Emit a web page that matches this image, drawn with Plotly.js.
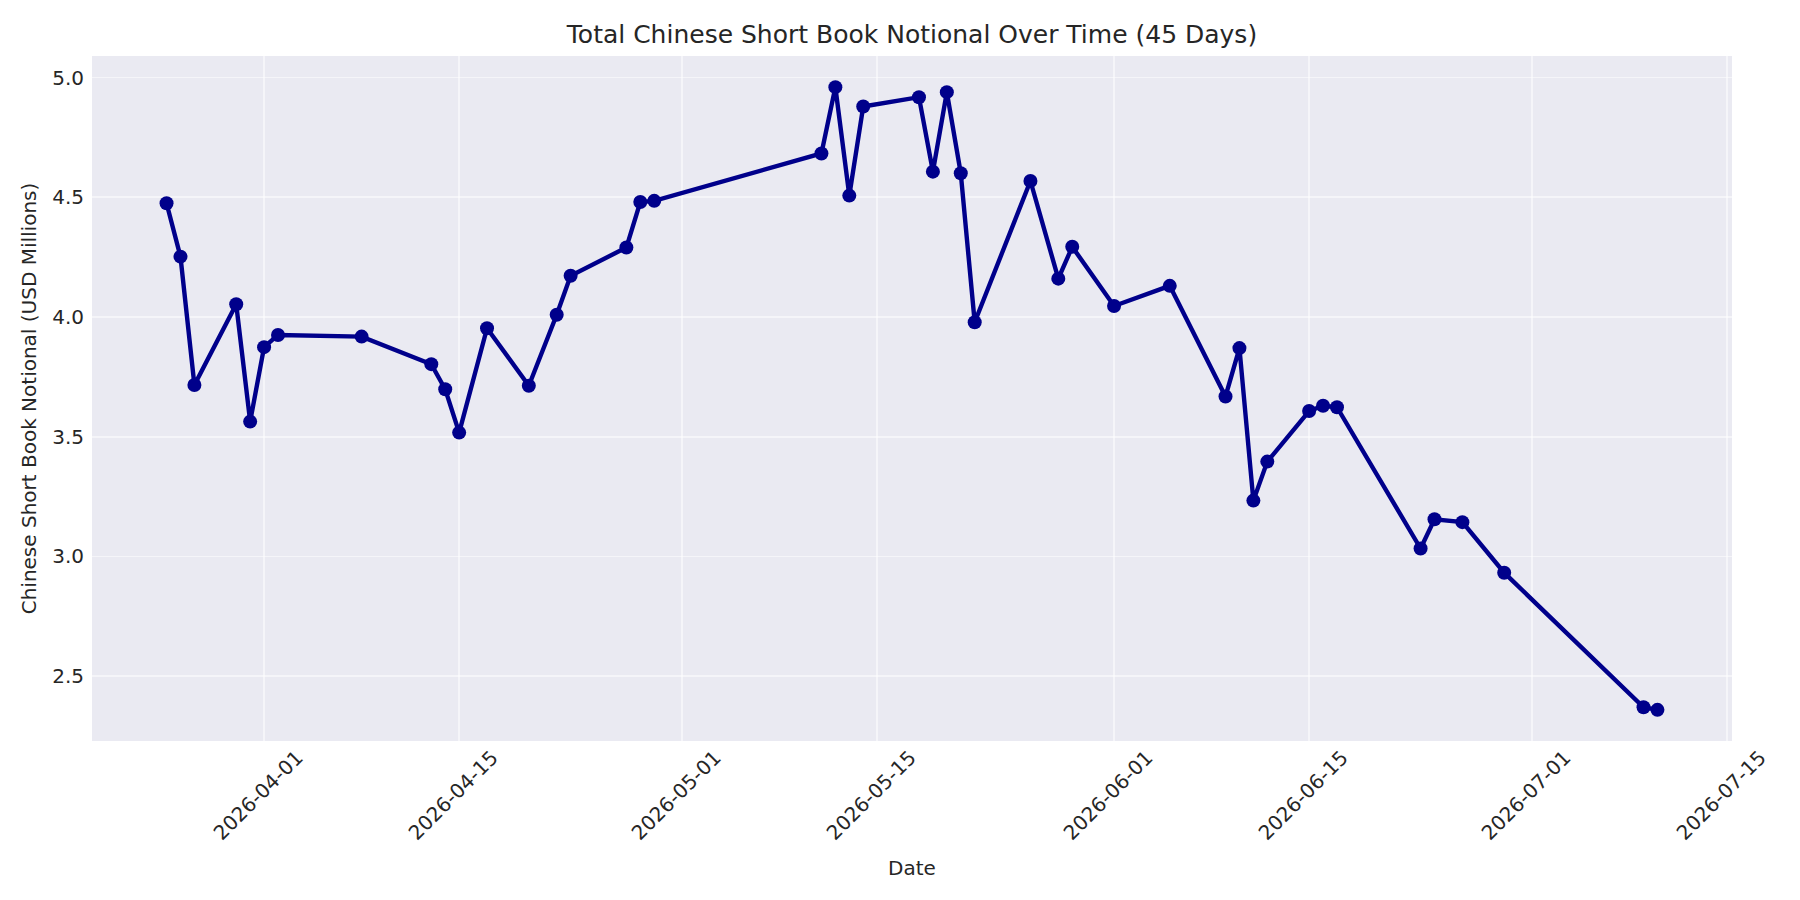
<!DOCTYPE html>
<html>
<head>
<meta charset="utf-8">
<script src="https://cdn.plot.ly/plotly-3.0.1.min.js"></script>
<style>
  html, body { margin: 0; padding: 0; background: #ffffff; }
  #graph { width: 1800px; height: 900px; }
</style>
</head>
<body>
<div id="graph"></div>
<script>
// trading days and the short book notional (USD millions)
var dates = [
  '2026-03-25', '2026-03-26', '2026-03-27', '2026-03-30', '2026-03-31',
  '2026-04-01', '2026-04-02', '2026-04-08', '2026-04-13', '2026-04-14',
  '2026-04-15', '2026-04-17', '2026-04-20', '2026-04-22', '2026-04-23',
  '2026-04-27', '2026-04-28', '2026-04-29', '2026-05-11', '2026-05-12',
  '2026-05-13', '2026-05-14', '2026-05-18', '2026-05-19', '2026-05-20',
  '2026-05-21', '2026-05-22', '2026-05-26', '2026-05-28', '2026-05-29',
  '2026-06-01', '2026-06-05', '2026-06-09', '2026-06-10', '2026-06-11',
  '2026-06-12', '2026-06-15', '2026-06-16', '2026-06-17', '2026-06-23',
  '2026-06-24', '2026-06-26', '2026-06-29', '2026-07-09', '2026-07-10'
];
var notional = [
  4.475, 4.252, 3.716, 4.053, 3.563,
  3.874, 3.925, 3.918, 3.803, 3.698,
  3.517, 3.953, 3.713, 4.009, 4.172,
  4.290, 4.480, 4.485, 4.683, 4.960,
  4.507, 4.879, 4.918, 4.607, 4.939,
  4.600, 3.978, 4.568, 4.160, 4.293,
  4.046, 4.130, 3.668, 3.870, 3.233,
  3.396, 3.607, 3.629, 3.623, 3.033,
  3.155, 3.143, 2.932, 2.370, 2.359
];
var xTicks = ['2026-04-01', '2026-04-15', '2026-05-01', '2026-05-15',
              '2026-06-01', '2026-06-15', '2026-07-01', '2026-07-15'];
var yTicks = [2.5, 3.0, 3.5, 4.0, 4.5, 5.0];

var trace = {
  x: dates,
  y: notional,
  type: 'scatter',
  mode: 'lines+markers',
  line: { color: '#00008b', width: 4.4 },
  marker: { color: '#00008b', size: 14 },
  hoverinfo: 'x+y'
};

var font = { family: 'DejaVu Sans, sans-serif', color: '#262626' };
var grid = 'rgba(255,255,255,0.5)';

var layout = {
  width: 1800,
  height: 900,
  paper_bgcolor: '#ffffff',
  plot_bgcolor: '#eaeaf2',
  showlegend: false,
  margin: { l: 92, r: 68, t: 56, b: 159 },
  font: font,
  title: {
    text: 'Total Chinese Short Book Notional Over Time (45 Days)',
    font: { family: font.family, color: '#262626', size: 25 },
    xref: 'paper', x: 0.5, xanchor: 'center',
    y: 0.962, yanchor: 'middle'
  },
  xaxis: {
    type: 'date',
    range: ['2026-03-19 15:36', '2026-07-15 08:24'],
    tickvals: xTicks,
    ticktext: xTicks,
    tickangle: -45,
    ticklabelshift: 33,
    ticklabelstandoff: 0,
    tickfont: { family: font.family, color: '#262626', size: 20 },
    showgrid: true,
    gridcolor: grid,
    gridwidth: 1.7,
    zeroline: false,
    showline: false,
    ticks: '',
    title: {
      text: 'Date',
      font: { family: font.family, color: '#262626', size: 20 },
      standoff: 17
    }
  },
  yaxis: {
    range: [2.229, 5.090],
    tickvals: yTicks,
    tickformat: '.1f',
    tickfont: { family: font.family, color: '#262626', size: 20 },
    showgrid: true,
    gridcolor: grid,
    gridwidth: 1.7,
    zeroline: false,
    showline: false,
    ticks: '',
    ticklabelstandoff: 7,
    title: {
      text: 'Chinese Short Book Notional (USD Millions)',
      font: { family: font.family, color: '#262626', size: 20 },
      standoff: 10
    }
  }
};

Plotly.newPlot('graph', [trace], layout, { displayModeBar: false, staticPlot: true });
</script>
</body>
</html>
